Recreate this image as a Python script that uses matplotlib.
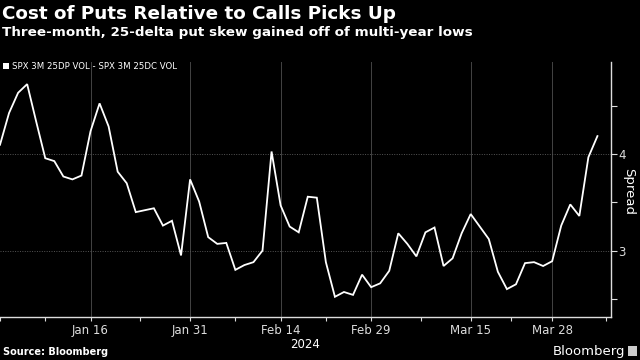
import matplotlib
matplotlib.use("Agg")
import matplotlib.pyplot as plt
from matplotlib import font_manager as fm
from matplotlib.patches import Rectangle

# Trading-day series (index = trading day from Dec 29, 2023)
spread = [4.10, 4.43, 4.64, 4.73, 4.34, 3.96, 3.93, 3.77, 3.74, 3.78,
          4.24, 4.53, 4.29, 3.82, 3.70, 3.40, 3.42, 3.44, 3.26, 3.31,
          2.95, 3.74, 3.51, 3.14, 3.07, 3.08, 2.80, 2.85, 2.88, 3.00,
          4.03, 3.47, 3.25, 3.19, 3.56, 3.55, 2.88, 2.52, 2.57, 2.54,
          2.75, 2.62, 2.66, 2.79, 3.18, 3.07, 2.94, 3.19, 3.24, 2.84,
          2.92, 3.18, 3.38, 3.25, 3.12, 2.78, 2.60, 2.65, 2.87, 2.88,
          2.84, 2.89, 3.26, 3.48, 3.36, 3.97, 4.19]
tick_pos = [10, 21, 31, 41, 52, 61]
tick_labels = ["Jan 16", "Jan 31", "Feb 14", "Feb 29", "Mar 15", "Mar 28"]
minor_pos = [0, 5, 15.5, 26, 36, 46.5, 56.5, 67]
y_ticks = [2.5, 3, 3.5, 4, 4.5]
y_labels = ["", "3", "", "4", ""]

names = {f.name for f in fm.fontManager.ttflist}
narrow = "Liberation Sans Narrow" if "Liberation Sans Narrow" in names else "DejaVu Sans"

fig = plt.figure(figsize=(6.4, 3.6), dpi=100, facecolor="black")
ax = fig.add_axes([0.0, 0.1194, 0.9547, 0.7084])
ax.set_facecolor("black")
x = list(range(len(spread)))
ax.plot(x, spread, color="white", lw=1.3, solid_joinstyle="miter", zorder=3)

ax.set_xlim(0, 67.5)
ax.set_ylim(2.31, 4.96)

for s in ["left", "top"]:
    ax.spines[s].set_visible(False)
for s in ["right", "bottom"]:
    ax.spines[s].set_color("#dddddd")
    ax.spines[s].set_linewidth(1.0)

ax.yaxis.tick_right()
ax.set_yticks(y_ticks)
ax.set_yticklabels(y_labels)
ax.tick_params(axis="y", colors="#dddddd", length=4, width=0.8, pad=1, labelsize=8.5)
for lab in ax.get_yticklabels():
    lab.set_family(narrow)
fig.text(629 / 640, 1 - 192 / 360, "Spread", color="white", rotation=270,
         fontsize=9.5, family=narrow, ha="center", va="center")

ax.set_xticks(tick_pos)
ax.set_xticklabels(tick_labels, family=narrow, fontsize=8.5)
ax.set_xticks(minor_pos, minor=True)
ax.tick_params(axis="x", which="both", colors="#dddddd", length=3, width=0.8, pad=2, labelsize=8.5)
ax.set_xlabel("2024", color="white", fontsize=8.5, family=narrow, labelpad=1)

for t in tick_pos:
    ax.axvline(t, color="#444444", lw=0.7, zorder=1)
for v in [3, 4]:
    ax.axhline(v, color="#555555", lw=0.7, ls=(0, (1, 1.5)), zorder=1)

fig.text(0.003, 0.962, "Cost of Puts Relative to Calls Picks Up", color="white",
         fontsize=13.2, fontweight="bold", va="center", ha="left")
fig.text(0.003, 0.91, "Three-month, 25-delta put skew gained off of multi-year lows",
         color="white", fontsize=9.7, fontweight="bold", va="center", ha="left")
fig.patches.append(Rectangle((0.005, 0.808), 0.009, 0.016, transform=fig.transFigure,
                             facecolor="white", edgecolor="none"))
fig.text(0.018, 0.816, "SPX 3M 25DP VOL - SPX 3M 25DC VOL", color="white",
         fontsize=6.2, va="center", ha="left", family=narrow)
fig.text(0.005, 0.022, "Source: Bloomberg", color="white", fontsize=7,
         fontweight="bold", va="center", ha="left")
fig.text(0.977, 0.025, "Bloomberg", color="white", fontsize=9.5,
         va="center", ha="right", family=narrow)
fig.patches.append(Rectangle((0.982, 0.012), 0.014, 0.028, transform=fig.transFigure,
                             facecolor="#cccccc", edgecolor="none"))

fig.savefig("out.png", dpi=100, facecolor="black")
